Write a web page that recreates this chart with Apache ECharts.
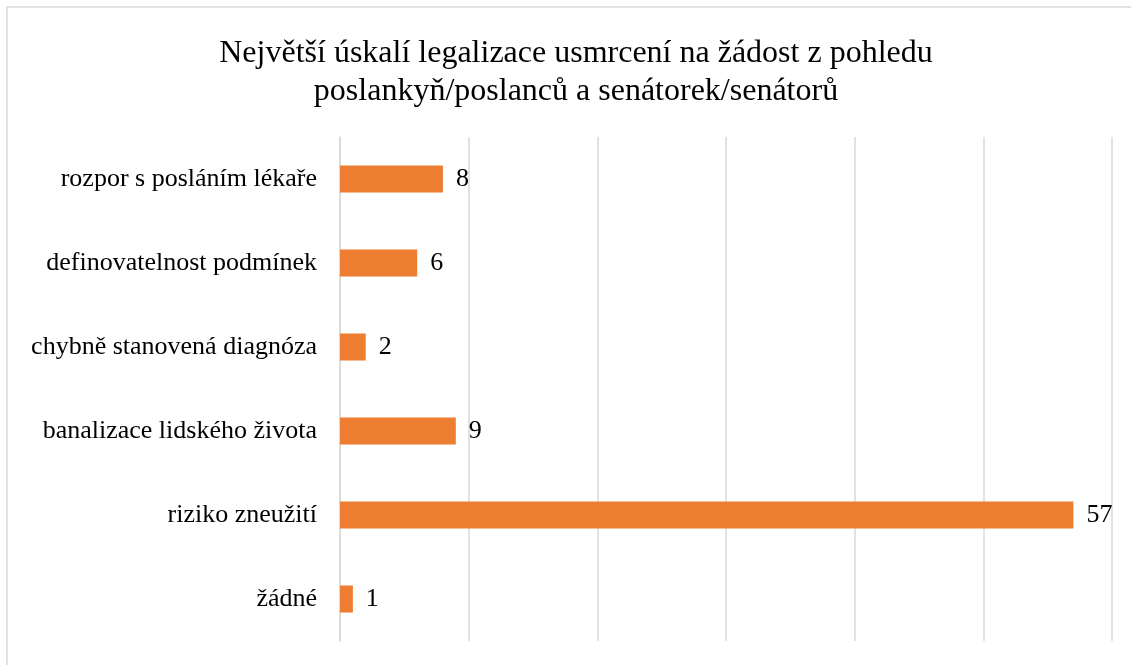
<!DOCTYPE html>
<html>
<head>
<meta charset="utf-8">
<script src="https://cdn.jsdelivr.net/npm/echarts@6/dist/echarts.min.js"></script>
<style>
  html, body { margin: 0; padding: 0; background: #fff; }
  #myChart { width: 1131px; height: 665px; }
</style>
</head>
<body>
<div id="myChart"></div>
<script>
// kategorie odshora dolu
const categories = [
  "rozpor s posláním lékaře",
  "definovatelnost podmínek",
  "chybně stanovená diagnóza",
  "banalizace lidského života",
  "riziko zneužití",
  "žádné"
];
const counts = [8, 6, 2, 9, 57, 1];
const titleLines = [
  "Největší úskalí legalizace usmrcení na žádost z pohledu",
  "poslankyň/poslanců a senátorek/senátorů"
];

const font = "'Liberation Serif', 'Times New Roman', serif";
let myChart = echarts.init(document.getElementById("myChart"));
myChart.setOption({
  animation: false,
  title: {
    text: titleLines.join("\n"),
    left: 571,
    top: 30,
    textAlign: "center",
    textStyle: { fontFamily: font, fontSize: 32, fontWeight: "normal", color: "#000", lineHeight: 38 }
  },
  graphic: [
    { type: "line", shape: { x1: 7, y1: 7, x2: 1131, y2: 7 }, style: { stroke: "#d9d9d9", lineWidth: 1.5 } },
    { type: "line", shape: { x1: 7, y1: 7, x2: 7, y2: 665 }, style: { stroke: "#d9d9d9", lineWidth: 1.5 } }
  ],
  grid: { left: 340, right: 19, top: 137, bottom: 24 },
  xAxis: {
    type: "value",
    min: 0,
    max: 60,
    interval: 10,
    axisLabel: { show: false },
    axisLine: { show: false },
    axisTick: { show: false },
    splitLine: { lineStyle: { color: "#d9d9d9", width: 1.5 } }
  },
  yAxis: {
    type: "category",
    inverse: true,
    data: categories,
    axisLine: { lineStyle: { color: "#d9d9d9", width: 1.5 } },
    axisTick: { show: false },
    axisLabel: { fontFamily: font, fontSize: 26, color: "#000", margin: 23 }
  },
  series: [
    {
      type: "bar",
      data: counts,
      barWidth: 27,
      itemStyle: { color: "#ED7D31" },
      label: {
        show: true,
        position: "right",
        distance: 13,
        fontFamily: font,
        fontSize: 26,
        color: "#000"
      }
    }
  ]
});
</script>
</body>
</html>
